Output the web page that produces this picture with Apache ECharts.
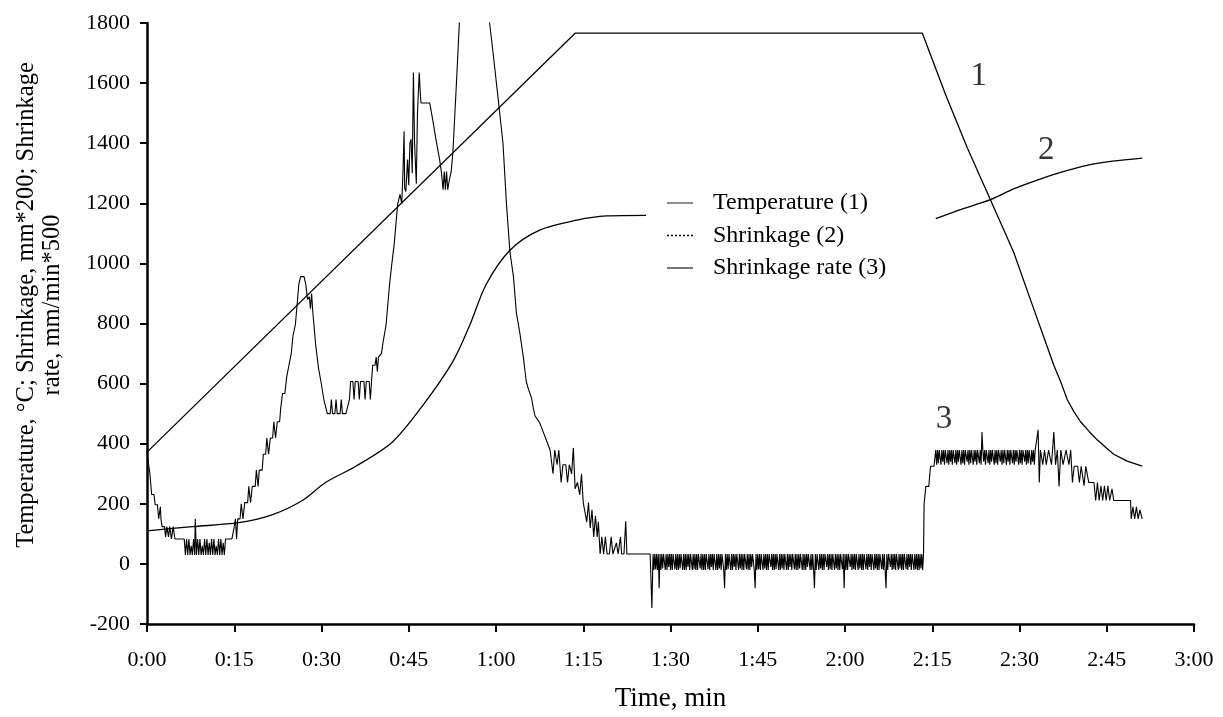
<!DOCTYPE html>
<html>
<head>
<meta charset="utf-8">
<script src="https://cdn.jsdelivr.net/npm/echarts@6/dist/echarts.min.js"></script>
<style>
html,body{margin:0;padding:0;background:#fff;}
#chart{width:1223px;height:717px;}
</style>
</head>
<body>
<div id="chart"></div>
<script>
// ---- axis ticks ----
const X_MIN = 0, X_MAX = 180, X_STEP = 15;       // minutes
const Y_MIN = -200, Y_MAX = 1800, Y_STEP = 200;

// ---- series names ----
const NAMES = ['Temperature (1)', 'Shrinkage (2)', 'Shrinkage rate (3)'];

// ---- Temperature (1): time [min], value ----
const tempTime  = [0, 73.6, 133.3, 137.3, 141.0, 145.0, 149.0, 152.2, 155.9, 157.2, 158.2, 159.4, 160.5, 162.0, 163.4, 165.0, 166.2, 168.5, 171.1];
const tempValue = [372, 1766, 1766, 1561, 1386, 1212, 1037, 862, 661, 600, 547, 505, 473, 440, 412, 385, 365, 342, 325];

// ---- Shrinkage (2) ('-' = hidden behind legend) ----
const shrinkTime  = [0, 7.8, 15.8, 21.6, 26.7, 30.7, 35.9, 42.2, 47.4, 52.6, 55.5, 58.3, 62.4, 67.5, 73.9, 79.0, 85.8, 110, 135.6, 140.0, 145.0, 149.0, 153.3, 157.5, 161.6, 166.0, 171.1];
const shrinkValue = [110, 124, 137, 164, 211, 271, 325, 406, 527, 674, 795, 930, 1044, 1111, 1144, 1158, 1160, '-', 1149, 1180, 1212, 1248, 1279, 1305, 1326, 1340, 1350];

// ---- Shrinkage rate (3): irregular parts (time, value) ----
const rateTimeA = [
 0,0.3,0.5,0.8,1.2,1.4,1.8,2.0,2.2,2.3,2.4,2.6,3.0,3.2,3.4,3.7,3.9,4.2,4.5,4.8,5.5,6.0,6.4,6.6,6.8,7.0,7.2,7.4,7.6,7.8,8.0,8.2,8.3,8.5,8.7,8.9,9.1,9.3,9.5,9.7,9.9,10.1,10.3,10.5,10.7,10.9,11.1,11.3,11.5,11.7,11.9,12.1,12.3,12.5,12.7,12.9,13.1,13.3,13.5,13.8,14.6,15.0,15.2,15.4,15.6,16.0,16.2,16.5,16.8,17.3,17.5,17.8,18.1,18.6,18.8,19.1,19.3,19.8,20.0,20.4,20.6,20.9,21.2,21.6,21.8,22.1,22.4,22.8,23.0,23.3,23.7,24.0,24.4,24.8,25.1,25.5,25.8,26.1,26.4,27.0,27.3,27.6,27.9,28.1,28.3,28.5,29.0,29.5,29.9,30.4,30.7,31.0,31.5,31.7,31.9,32.3,32.5,32.7,33.2,33.4,33.6,34.2,34.8,35.0,35.4,35.6,35.8,36.3,36.5,36.7,37.3,37.5,37.7,38.2,38.4,38.6,38.8,39.2,39.4,39.6,39.8,40.3,40.6,41.1,41.7,42.1,42.5,43.1,43.5,43.8,44.0,44.2,44.3,44.5,44.8,45.0,45.2,45.4,45.6,45.8,46.0,46.3,46.5,46.8,47.0,47.1,48.6,49.1,49.7,50.3,50.6,50.9,51.1,51.3,51.5,51.7,52.0,52.3,52.6,53.2,53.7,55.3,58.9,59.5,60.3,61.2,61.8,62.4,63.0,63.5,64.1,64.7,65.2,65.6,66.1,66.4,66.7,67.5,68.5,69.3,69.8,70.1,70.5,70.8,71.2,71.5,72.0,72.3,72.6,73.0,73.3,73.6,74.0,74.4,74.7,75.0,75.3,75.6,75.9,76.2,76.5,76.8,77.1,77.4,77.6,77.9,78.2,78.5,78.8,79.1,79.5,79.8,80.1,80.4,80.7,81.0,81.4,81.6,82.0,82.3,82.5,86.5,86.8
];
const rateValueA = [
 372,372,300,231,231,197,197,150,150,190,150,124,124,90,124,90,124,83,124,83,83,83,83,30,83,30,83,30,60,30,83,30,150,30,83,30,83,30,60,30,83,30,83,30,70,30,83,30,83,30,60,30,83,30,83,30,70,30,83,83,83,124,150,83,150,150,200,150,204,204,258,204,258,258,312,258,312,312,365,365,419,365,419,419,473,419,473,473,520,567,567,620,661,700,760,795,860,930,956,956,930,880,889,849,900,840,728,650,607,547,547,500,500,547,500,500,547,500,500,547,500,500,547,607,607,547,607,607,547,607,607,547,607,607,547,607,661,661,688,640,688,700,740,795,930,1000,1064,1198,1230,1198,1300,1440,1250,1239,1346,1260,1400,1413,1300,1635,1400,1265,1500,1635,1560,1534,1534,1480,1410,1346,1306,1245,1306,1245,1306,1245,1280,1306,1373,1600,1800,2400,1800,1700,1561,1400,1198,1037,956,836,768,688,607,580,553,520,493,470,420,379,300,379,330,379,271,330,330,271,330,300,386,250,271,230,300,204,204,140,204,120,180,90,160,90,140,33,90,33,90,33,33,90,33,33,70,33,90,33,33,142,33,33,-147
];

// ---- Shrinkage rate (3): noisy hold plateau, sampled every 0.15 min from 87.0 ----
const rateBandStart = 87.0, rateBandStep = 0.15;
const rateBandValue = [
 33,-20,33,-18,33,-20,33,-81,33,-20,33,-15,33,33,-20,33,-20,33,-10,33,
 -20,33,-20,33,33,-18,33,-20,33,-20,33,-15,33,33,-20,33,-20,33,-20,33,
 -10,33,-20,33,33,-20,33,-18,33,-20,33,-20,33,33,-15,33,-20,33,-20,33,
 -20,33,33,-18,33,-20,33,-10,33,-20,33,33,-20,33,-20,33,-15,33,-20,33,
 33,-20,-81,33,-20,33,-18,33,33,-20,33,-20,33,-10,33,-20,33,33,-20,33,
 -15,33,-20,33,-20,33,33,-18,33,-20,33,-20,33,-10,33,33,-20,-81,33,-20,
 33,-18,33,-20,33,33,-20,33,-15,33,-20,33,-20,33,33,-10,33,-20,33,-20,
 33,-18,33,33,-20,33,-20,33,-15,33,-20,33,33,-20,33,-20,33,-10,33,-20,
 33,33,-18,33,-20,33,-20,33,-15,33,33,-20,33,-20,33,-20,33,-10,33,33,
 -20,33,-20,33,-18,-81,33,-20,33,33,-20,33,-15,33,-20,33,-20,33,33,-10,
 33,-20,33,-18,33,-20,33,33,-20,33,-15,33,-20,33,-20,33,33,-18,33,-81,
 33,-20,33,-20,33,33,-10,33,-20,33,-18,33,-20,33,33,-20,33,-15,33,-20,
 33,-20,33,33,-18,33,-20,33,-10,33,-20,33,33,-20,33,-15,33,-20,33,-20,
 33,33,-18,33,-20,33,-20,-81,33,-20,33,33,-10,33,-20,33,-18,33,-20,33,
 33,-20,33,-15,33,-20,33,-20,33,33,-18,33,-20,33,-10,33,-20,33,33,-20,
 33,-18,33,-20,33,-20,33,-15,33,-20,33
];

// ---- Shrinkage rate (3): step up after cooling starts ----
const rateTimeB  = [133.6, 133.9, 134.4, 134.7, 135.3];
const rateValueB = [200, 258, 258, 325, 325];

// ---- Shrinkage rate (3): noisy plateau during cooling, sampled every 0.15 min from 135.6 ----
const rateBand2Start = 135.6, rateBand2Step = 0.15;
const rateBand2Value = [
 379,330,379,335,379,379,330,379,340,379,330,379,379,335,379,330,379,340,379,330,
 379,379,335,379,330,379,340,379,379,330,379,335,379,330,379,379,340,379,330,379,
 335,379,379,330,379,340,379,330,379,379,335,379,330,439,379,340,379,330,379,379,
 335,379,330,379,340,379,379,330,379,335,379,330,379,379,340,379,330,379,335,379,
 379,330,379,340,379,330,379,379,335,379,330,379,340,379,379,330,379,335,379,330,
 379,379,340,379,330,379,335,379,379,330,379,340,379,330,379,379,379
];

// ---- Shrinkage rate (3): end of cooling ----
const rateTimeC  = [153.2, 153.4, 153.6, 154.0, 154.3, 154.6, 155.0, 155.5, 155.9, 156.2, 156.5, 156.8, 157.1, 157.5, 158.0, 158.2, 158.5, 158.8, 159.1, 159.4, 160.0, 160.3, 160.6, 161.1, 161.4, 161.6, 161.9, 162.4, 162.8, 163.1, 163.4, 163.7, 164.0, 164.3, 164.6, 164.9, 165.2, 165.5, 165.9, 166.2, 166.8, 169.1, 169.2, 169.5, 169.8, 170.1, 170.4, 170.7, 171.1];
const rateValueC = [446, 271, 379, 330, 379, 330, 379, 330, 439, 330, 379, 258, 379, 330, 379, 379, 330, 379, 271, 325, 325, 271, 325, 260, 325, 325, 271, 271, 271, 211, 271, 211, 260, 211, 260, 211, 260, 211, 250, 211, 211, 211, 150, 190, 150, 190, 150, 180, 150];

// ---- curve number annotations ----
const annotText  = ['1', '2', '3'];
const annotTime  = [143.0, 154.6, 137.0];
const annotValue = [1621, 1377, 482];

const zip = (a, b) => a.map((t, i) => [t, b[i]]);
const sampled = (start, step, vals) => vals.map((v, i) => [+(start + i * step).toFixed(2), v]);
const rateData = [].concat(
  zip(rateTimeA, rateValueA),
  sampled(rateBandStart, rateBandStep, rateBandValue),
  zip(rateTimeB, rateValueB),
  sampled(rateBand2Start, rateBand2Step, rateBand2Value),
  zip(rateTimeC, rateValueC)
);

const FONT = '"Liberation Serif", "Times New Roman", serif';
const fmtTime = v => Math.floor(v / 60) + ':' + String(v % 60).padStart(2, '0');

// legend glyphs: thin solid bar, dotted bar
const ICON_SOLID = 'path://M0,0H26V1.2H0Z';
const ICON_SOLID_THICK = 'path://M0,0H26V1.8H0Z';
const ICON_DOTTED = 'path://M0,0H2V1.6H0Z M4,0H6V1.6H4Z M8,0H10V1.6H8Z M12,0H14V1.6H12Z M16,0H18V1.6H16Z M20,0H22V1.6H20Z M24,0H26V1.6H24Z';

const chart = echarts.init(document.getElementById('chart'), null, {renderer: 'canvas'});
chart.setOption({
  animation: false,
  backgroundColor: '#fff',
  grid: {left: 147, right: 29, top: 23, bottom: 88, containLabel: false},
  xAxis: {
    type: 'value', min: X_MIN, max: X_MAX, interval: X_STEP,
    name: 'Time, min', nameLocation: 'middle', nameGap: 61,
    nameTextStyle: {fontFamily: FONT, fontSize: 27, color: '#000'},
    axisLine: {show: true, onZero: false, lineStyle: {color: '#000', width: 2.5}},
    axisTick: {show: true, inside: false, length: 8, lineStyle: {color: '#000', width: 2}},
    axisLabel: {fontFamily: FONT, fontSize: 22, color: '#000', margin: 25, formatter: fmtTime},
    splitLine: {show: false}
  },
  yAxis: {
    type: 'value', min: Y_MIN, max: Y_MAX, interval: Y_STEP,
    axisLine: {show: true, onZero: false, lineStyle: {color: '#000', width: 2.5}},
    axisTick: {show: true, inside: false, length: 7, lineStyle: {color: '#000', width: 2}},
    axisLabel: {fontFamily: FONT, fontSize: 22, color: '#000', margin: 17, formatter: v => String(v)},
    splitLine: {show: false}
  },
  legend: {
    orient: 'vertical', left: 667, top: 191, padding: 0,
    itemWidth: 26, itemHeight: 10, itemGap: 8.5, symbolKeepAspect: true,
    textStyle: {fontFamily: FONT, fontSize: 24, color: '#000', lineHeight: 24, padding: [0, 0, 0, 15]},
    data: [
      {name: NAMES[0], icon: ICON_SOLID, itemStyle: {color: '#444'}},
      {name: NAMES[1], icon: ICON_DOTTED, itemStyle: {color: '#000'}},
      {name: NAMES[2], icon: ICON_SOLID_THICK, itemStyle: {color: '#666'}}
    ]
  },
  graphic: [
    {type: 'text', x: 27, y: 305, rotation: Math.PI / 2,
     style: {text: 'Temperature, °C; Shrinkage, mm*200; Shrinkage', fontFamily: FONT, fontSize: 24.5, fill: '#000', align: 'center', verticalAlign: 'middle'}},
    {type: 'text', x: 53, y: 305, rotation: Math.PI / 2,
     style: {text: 'rate, mm/min*500', fontFamily: FONT, fontSize: 24.5, fill: '#000', align: 'center', verticalAlign: 'middle'}}
  ],
  series: [
    {name: NAMES[0], type: 'line', data: zip(tempTime, tempValue), symbol: 'none',
     lineStyle: {color: '#000', width: 1.3}, itemStyle: {color: '#000'}, z: 3},
    {name: NAMES[1], type: 'line', data: zip(shrinkTime, shrinkValue), symbol: 'none', smooth: 0.3,
     connectNulls: false, lineStyle: {color: '#000', width: 1.3}, itemStyle: {color: '#000'}, z: 3},
    {name: NAMES[2], type: 'line', data: rateData, symbol: 'none', clip: true,
     lineStyle: {color: '#000', width: 1.1}, itemStyle: {color: '#000'}, z: 2},
    {name: 'labels', type: 'scatter', symbolSize: 0, silent: true,
     data: annotText.map((s, i) => [annotTime[i], annotValue[i], s]),
     label: {show: true, position: 'inside', formatter: p => p.data[2],
             fontFamily: FONT, fontSize: 33, color: '#000'}}
  ]
});
</script>
</body>
</html>
